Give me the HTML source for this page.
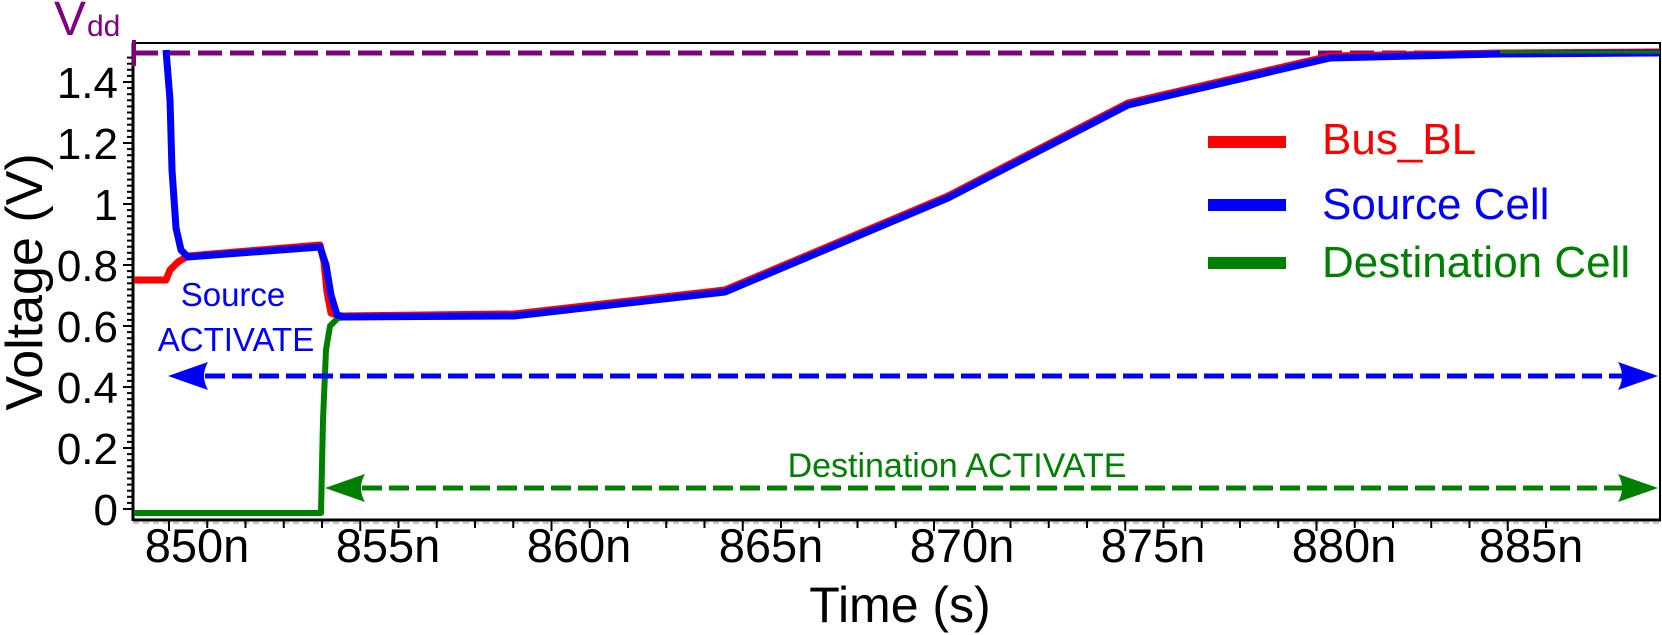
<!DOCTYPE html>
<html><head><meta charset="utf-8"><style>
html,body{margin:0;padding:0;background:#fff;}
svg{display:block;font-family:"Liberation Sans",Arial,sans-serif;}
</style></head><body>
<svg width="1662" height="635" viewBox="0 0 1662 635" xmlns="http://www.w3.org/2000/svg">
<defs>
<path id="ahL" d="M0,0 L40,-14 Q32,0 40,14 Z"/>
</defs>
<line x1="133" y1="43" x2="1661" y2="43" stroke="#000" stroke-width="2"/>
<line x1="1660" y1="43" x2="1660" y2="520" stroke="#000" stroke-width="2"/>
<line x1="133" y1="43" x2="133" y2="521" stroke="#000" stroke-width="3"/>
<line x1="133" y1="520" x2="1661" y2="520" stroke="#000" stroke-width="3"/>
<line x1="133" y1="523" x2="1661" y2="523" stroke="#888" stroke-width="1" stroke-dasharray="6,4"/>
<g stroke="#000" stroke-width="2">
<line x1="123" y1="509" x2="133" y2="509"/><line x1="123" y1="448" x2="133" y2="448"/><line x1="123" y1="387" x2="133" y2="387"/><line x1="123" y1="326" x2="133" y2="326"/><line x1="123" y1="265" x2="133" y2="265"/><line x1="123" y1="204" x2="133" y2="204"/><line x1="123" y1="143" x2="133" y2="143"/><line x1="123" y1="82" x2="133" y2="82"/>
</g>
<g stroke="#000" stroke-width="2" id="minor"></g>
<g stroke="#000" stroke-width="2" id="xt"></g>
<g font-size="44" text-anchor="end" fill="#000">
<text x="118" y="525">0</text><text x="118" y="464">0.2</text><text x="118" y="403">0.4</text><text x="118" y="342">0.6</text><text x="118" y="281">0.8</text><text x="118" y="220">1</text><text x="118" y="159">1.2</text><text x="118" y="98">1.4</text>
</g>
<text transform="translate(42,282) rotate(-90)" font-size="52" text-anchor="middle">Voltage (V)</text>
<g font-size="47" text-anchor="middle">
<text x="197" y="562">850n</text><text x="388" y="562">855n</text><text x="579" y="562">860n</text><text x="771" y="562">865n</text><text x="962" y="562">870n</text><text x="1153" y="562">875n</text><text x="1344" y="562">880n</text><text x="1531" y="562">885n</text>
</g>
<text x="900" y="622" font-size="50" text-anchor="middle">Time (s)</text>
<text x="54" y="35" font-size="48" fill="#800080">V</text>
<text x="87" y="36" font-size="30" fill="#800080">dd</text>
<line x1="134" y1="53" x2="1660" y2="53" stroke="#800080" stroke-width="5" stroke-dasharray="24,8"/>
<line x1="134" y1="40" x2="134" y2="66" stroke="#800080" stroke-width="4"/>
<polyline fill="none" stroke="#008000" stroke-width="6" stroke-linejoin="round" points="134,513 321,513 323,420 326,350 330,326 338,318 350,317"/>
<polyline fill="none" stroke="#ff0000" stroke-width="7" stroke-linejoin="round" points="134,280 166,280 170,270 178,262 188,256 320,245 324,262 327,292 331,313 340,316 514,314 725,290 948,196 1128,103 1330,56 1500,53 1660,52"/>
<polyline fill="none" stroke="#0000ff" stroke-width="7" stroke-linejoin="round" points="166,50 170,100 172,170 176,228 181,250 188,257 320,247 326,265 331,295 337,315 345,317 514,316 725,292 948,198 1128,105 1330,58 1500,54 1660,53"/>
<line x1="1500" y1="52" x2="1660" y2="52" stroke="#008000" stroke-width="3"/>
<line x1="205" y1="376" x2="1625" y2="376" stroke="#0000ff" stroke-width="5" stroke-dasharray="20,7"/>
<use href="#ahL" transform="translate(168,376)" fill="#0000ff"/>
<use href="#ahL" transform="translate(1658,376) scale(-1,1)" fill="#0000ff"/>
<line x1="362" y1="488" x2="1625" y2="488" stroke="#008000" stroke-width="5" stroke-dasharray="20,7"/>
<use href="#ahL" transform="translate(325,488)" fill="#008000"/>
<use href="#ahL" transform="translate(1658,488) scale(-1,1)" fill="#008000"/>
<g font-size="33" text-anchor="middle" fill="#0000ff">
<text x="233" y="306">Source</text><text x="236" y="351">ACTIVATE</text>
</g>
<text x="957" y="477" font-size="34" text-anchor="middle" fill="#008000">Destination ACTIVATE</text>
<line x1="1208" y1="142" x2="1286" y2="142" stroke="#ff0000" stroke-width="12"/>
<line x1="1208" y1="205" x2="1286" y2="205" stroke="#0000ff" stroke-width="12"/>
<line x1="1208" y1="263" x2="1286" y2="263" stroke="#008000" stroke-width="12"/>
<g font-size="44">
<text x="1322" y="154" fill="#ff0000">Bus_BL</text>
<text x="1322" y="219" fill="#0000ff">Source Cell</text>
<text x="1322" y="277" fill="#008000">Destination Cell</text>
</g>
<script>
var ns="http://www.w3.org/2000/svg";
var m=document.getElementById("minor");
for(var i=0;i<=74;i++){var y=509-i*6.1;if(i%10==0)continue;var l=document.createElementNS(ns,"line");l.setAttribute("x1",127);l.setAttribute("x2",133);l.setAttribute("y1",y);l.setAttribute("y2",y);m.appendChild(l);}
var xt=document.getElementById("xt");
for(var t=849;t<=886;t++){var x=169+(t-850)*38.25;if(x<134||x>1660)continue;var l=document.createElementNS(ns,"line");l.setAttribute("x1",x);l.setAttribute("x2",x);l.setAttribute("y1",520);l.setAttribute("y2",(t%5==0)?531:528);xt.appendChild(l);}
</script>
</svg>
</body></html>
